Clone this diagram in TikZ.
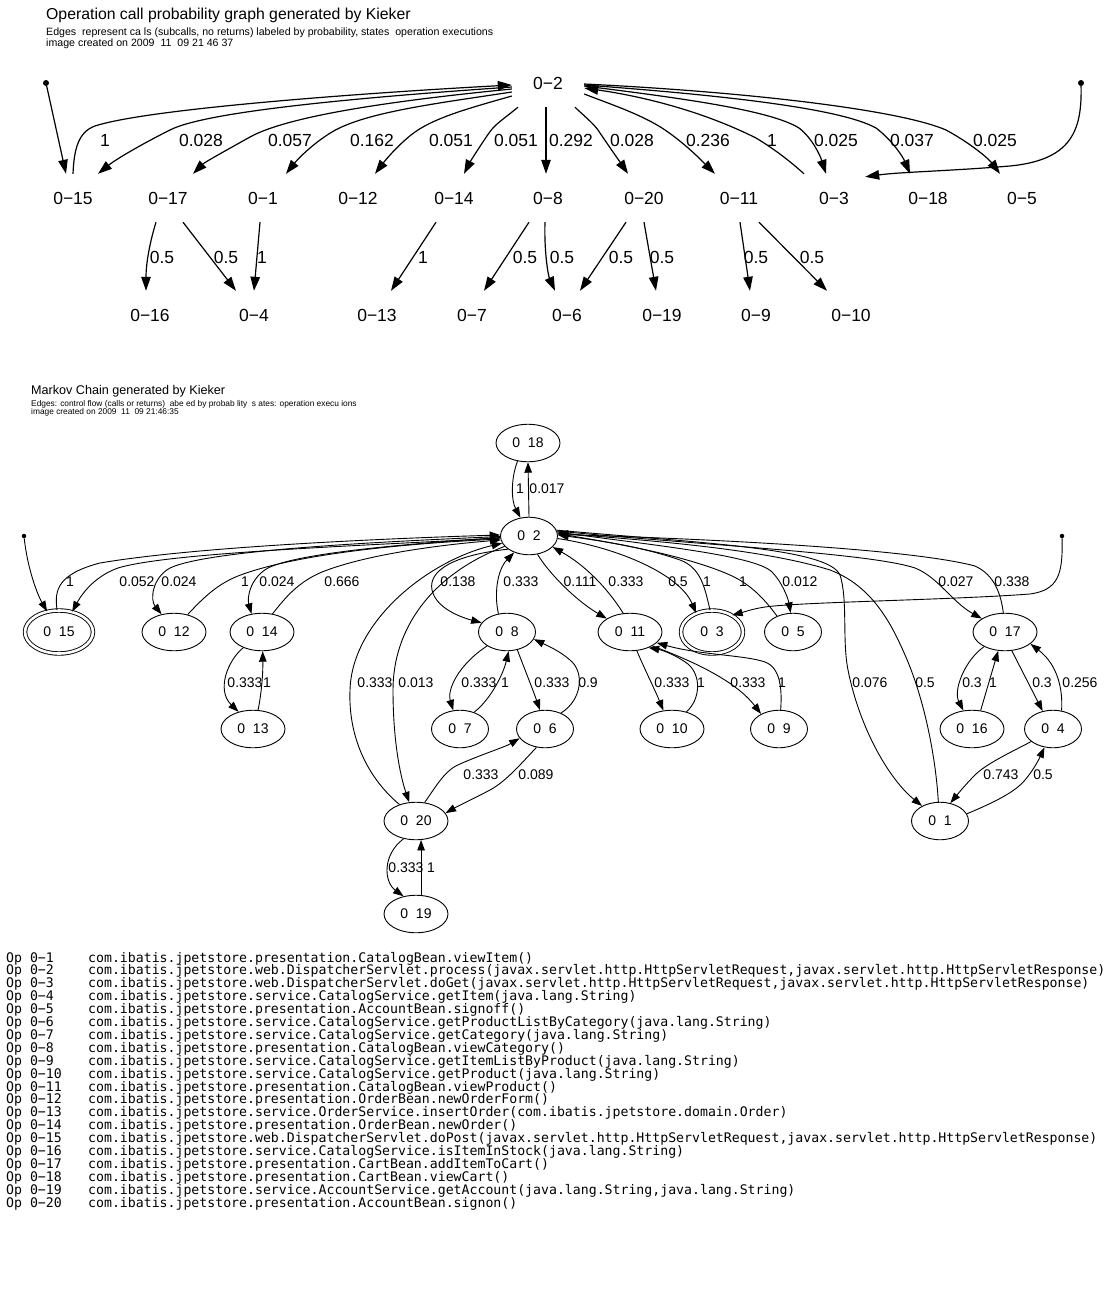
\documentclass[tikz,border=0pt]{standalone}
\usepackage{fontspec}
\setmainfont{Liberation Sans}
\newfontfamily\legendfont{DejaVu Sans Mono}
\usetikzlibrary{arrows.meta,shapes.geometric}

% one line of the operation legend: number, signature
\newcommand\opline[2]{\node[legend] (op#1) at (6,{962+12.9*(#1-1)}) {\makebox[82pt][l]{Op 0−#1}#2};}

\begin{document}
\begin{tikzpicture}[x=1pt,y=-1pt,
  hdr/.style={anchor=base west, inner sep=0pt},
  tnode/.style={rectangle, minimum width=72pt, minimum height=48pt, inner sep=0pt, font=\fontsize{17.5}{20}\selectfont},
  tlbl/.style={inner sep=0pt, font=\fontsize{17.5}{20}\selectfont},
  tedge/.style={draw, line width=1.2pt, -{Triangle[length=14pt,width=9.5pt]}},
  tdot/.style={circle, fill, inner sep=0pt, minimum size=6pt},
  mnode/.style={ellipse, draw, line width=0.9pt, minimum width=64pt, minimum height=37.5pt, inner sep=0pt, font=\fontsize{14}{16}\selectfont},
  msmall/.style={mnode, minimum width=57pt},
  mfinal/.style={mnode, double, double distance=2.6pt, minimum height=43pt},
  mlbl/.style={inner sep=0pt, font=\fontsize{14}{16}\selectfont},
  medge/.style={draw, line width=0.9pt, -{Triangle[length=10.5pt,width=7.5pt]}},
  mdot/.style={circle, fill, inner sep=0pt, minimum size=4.5pt},
  legend/.style={anchor=base west, inner sep=0pt, font=\legendfont\fontsize{13.2}{13}\selectfont}
]
\fill[white] (0,0) rectangle (1107,1293);
\useasboundingbox (0,0) rectangle (1107,1293);

% ---------------- operation call probability graph ----------------
\node[hdr, font=\fontsize{15.8}{18}\selectfont] (ttitle) at (46,19.5) {Operation call probability graph generated by Kieker};
\node[hdr, font=\fontsize{10.6}{12}\selectfont] (tsub) at (46,35.5) {Edges\ \ represent ca ls (subcalls, no returns) labeled by probability, states\ \ operation executions};
\node[hdr, font=\fontsize{10.6}{12}\selectfont] (tdate) at (46,46.5) {image created on 2009\ \ 11\ \ 09 21 46 37};

\node[tdot] (tdotL) at (46,83) {};
\node[tdot] (tdotR) at (1081,83) {};
\node[tnode] (t2) at (548,83) {0−2};

\node[tnode] (t15) at (73,198) {0−15};
\node[tnode] (t17) at (168,198) {0−17};
\node[tnode] (t1)  at (263,198) {0−1};
\node[tnode] (t12) at (358,198) {0−12};
\node[tnode] (t14) at (454,198) {0−14};
\node[tnode] (t8)  at (548,198) {0−8};
\node[tnode] (t20) at (644,198) {0−20};
\node[tnode] (t11) at (739,198) {0−11};
\node[tnode] (t3)  at (834,198) {0−3};
\node[tnode] (t18) at (928,198) {0−18};
\node[tnode] (t5)  at (1022,198) {0−5};

\node[tnode] (t16) at (150,315) {0−16};
\node[tnode] (t4)  at (254,315) {0−4};
\node[tnode] (t13) at (377,315) {0−13};
\node[tnode] (t7)  at (472,315) {0−7};
\node[tnode] (t6)  at (567,315) {0−6};
\node[tnode] (t19) at (662,315) {0−19};
\node[tnode] (t9)  at (756,315) {0−9};
\node[tnode] (t10) at (851,315) {0−10};

% calls from and to 0-2
\draw[tedge] (tdotL) -- ([xshift=-7pt]t15.north);
\draw[tedge] (t15.north) .. controls (74,150) and (78,132) .. (95,126) .. controls (150,108) and (380,92) .. ([yshift=-2pt]t2.west);
\draw[tedge] ([yshift=-4pt]t2.west) .. controls (350,98) and (205,112) .. (170,130) .. controls (140,145) and (115,160) .. ([xshift=25pt]t15.north);
\draw[tedge] ([yshift=-6pt]t2.west) .. controls (400,100) and (290,115) .. (250,137) .. controls (225,151) and (205,162) .. ([xshift=25pt]t17.north);
\draw[tedge] ([yshift=-9pt]t2.west) .. controls (440,103) and (365,112) .. (332,132) .. controls (312,144) and (297,160) .. ([xshift=23pt]t1.north);
\draw[tedge] ([yshift=-13pt]t2.west) .. controls (470,108) and (432,118) .. (411,135) .. controls (395,148) and (384,162) .. ([xshift=17pt]t12.north);
\draw[tedge] ([xshift=-30pt]t2.south) .. controls (505,118) and (495,124) .. (489,133) .. controls (480,146) and (470,162) .. ([xshift=10pt]t14.north);
\draw[tedge] ([xshift=-2pt]t2.south) -- ([xshift=-2pt]t8.north);
\draw[tedge] ([xshift=27pt]t2.south) .. controls (583,115) and (592,122) .. (598,130) .. controls (608,145) and (620,162) .. ([xshift=-16pt]t20.north);
\draw[tedge] ([yshift=-11pt]t2.east) .. controls (610,104) and (640,114) .. (662,128) .. controls (685,143) and (703,162) .. ([xshift=-24pt]t11.north);
\draw[tedge] ([xshift=-30pt]t3.north) .. controls (792,163) and (776,150) .. (756,138) .. controls (700,110) and (640,96) .. ([yshift=-5pt]t2.east);
\draw[tedge] ([yshift=-3pt]t2.east) .. controls (680,98) and (770,110) .. (799,128) .. controls (812,138) and (820,155) .. ([xshift=-8pt]t3.north);
\draw[tedge] ([yshift=-2pt]t2.east) .. controls (720,95) and (840,108) .. (876,128) .. controls (892,140) and (903,157) .. ([xshift=-18pt]t18.north);
\draw[tedge] ([yshift=-1pt]t2.east) .. controls (750,92) and (900,110) .. (946,130) .. controls (970,143) and (988,158) .. ([xshift=-22pt]t5.north);
\draw[tedge] (tdotR) .. controls (1082,130) and (1072,160) .. (1010,166) .. controls (950,171) and (900,172) .. ([xshift=-5pt,yshift=-3pt]t3.north east);

\node[tlbl] (tl1)  at (105,140) {1};
\node[tlbl] (tl2)  at (201,140) {0.028};
\node[tlbl] (tl3)  at (290,140) {0.057};
\node[tlbl] (tl4)  at (372,140) {0.162};
\node[tlbl] (tl5)  at (451,140) {0.051};
\node[tlbl] (tl6)  at (516,140) {0.051};
\node[tlbl] (tl7)  at (571,140) {0.292};
\node[tlbl] (tl8)  at (632,140) {0.028};
\node[tlbl] (tl9)  at (708,140) {0.236};
\node[tlbl] (tl10) at (772,140) {1};
\node[tlbl] (tl11) at (836,140) {0.025};
\node[tlbl] (tl12) at (912,140) {0.037};
\node[tlbl] (tl13) at (995,140) {0.025};

% second level calls
\draw[tedge] ([xshift=-12pt]t17.south) .. controls (149,245) and (146,265) .. ([xshift=-4pt]t16.north);
\draw[tedge] ([xshift=15pt]t17.south) -- ([xshift=-18pt]t4.north);
\draw[tedge] ([xshift=-3pt]t1.south) -- (t4.north);
\draw[tedge] ([xshift=-18pt]t14.south) -- ([xshift=14pt]t13.north);
\draw[tedge] ([xshift=-19pt]t8.south) -- ([xshift=12pt]t7.north);
\draw[tedge] ([xshift=-3pt]t8.south) .. controls (544,250) and (548,275) .. ([xshift=-12pt]t6.north);
\draw[tedge] ([xshift=-18pt]t20.south) -- ([xshift=13pt]t6.north);
\draw[tedge] (t20.south) -- ([xshift=-6pt]t19.north);
\draw[tedge] ([xshift=1pt]t11.south) -- ([xshift=-6pt]t9.north);
\draw[tedge] ([xshift=20pt]t11.south) -- ([xshift=-24pt]t10.north);

\node[tlbl] (tl14) at (162,257) {0.5};
\node[tlbl] (tl15) at (226,257) {0.5};
\node[tlbl] (tl16) at (262,257) {1};
\node[tlbl] (tl17) at (423,257) {1};
\node[tlbl] (tl18) at (525,257) {0.5};
\node[tlbl] (tl19) at (562,257) {0.5};
\node[tlbl] (tl20) at (621,257) {0.5};
\node[tlbl] (tl21) at (662,257) {0.5};
\node[tlbl] (tl22) at (756,257) {0.5};
\node[tlbl] (tl23) at (812,257) {0.5};

% ---------------- Markov chain ----------------
\node[hdr, font=\fontsize{12.6}{15}\selectfont] (mtitle) at (31,394.5) {Markov Chain generated by Kieker};
\node[hdr, font=\fontsize{8.35}{9}\selectfont] (msub) at (31,406) {Edges: control flow (calls or returns)\ \ abe ed by probab lity\ \ s ates: operation execu ions};
\node[hdr, font=\fontsize{8.35}{9}\selectfont] (mdate) at (31,414.8) {image created on 2009\ \ 11\ \ 09 21:46:35};

\node[mdot] (mdotL) at (24,536) {};
\node[mdot] (mdotR) at (1062,536) {};

\node[mnode]  (m18) at (528,443) {0\ \ 18};
\node[msmall] (m2)  at (529,536) {0\ \ 2};
\node[mfinal, minimum width=68pt] (m15) at (59,632) {0\ \ 15};
\node[mnode]  (m12) at (174,632) {0\ \ 12};
\node[mnode]  (m14) at (262,632) {0\ \ 14};
\node[msmall] (m8)  at (507,632) {0\ \ 8};
\node[mnode]  (m11) at (630,632) {0\ \ 11};
\node[mfinal, minimum width=62pt] (m3) at (712,632) {0\ \ 3};
\node[msmall] (m5)  at (793,632) {0\ \ 5};
\node[mnode]  (m17) at (1005,632) {0\ \ 17};
\node[mnode]  (m13) at (253,729) {0\ \ 13};
\node[msmall] (m7)  at (460,729) {0\ \ 7};
\node[msmall] (m6)  at (545,729) {0\ \ 6};
\node[mnode]  (m10) at (672,729) {0\ \ 10};
\node[msmall] (m9)  at (779,729) {0\ \ 9};
\node[mnode]  (m16) at (972,729) {0\ \ 16};
\node[msmall] (m4)  at (1053,729) {0\ \ 4};
\node[mnode]  (m20) at (416,821) {0\ \ 20};
\node[msmall] (m1)  at (940,821) {0\ \ 1};
\node[mnode]  (m19) at (416,914) {0\ \ 19};

% transitions
\draw[medge] (m18.240) .. controls (511,478) and (511,500) .. (m2.115);
\draw[medge] (m2.north) -- (m18.south);
\draw[medge] (mdotL) .. controls (27,565) and (36,592) .. (m15.120);
\draw[medge] (m15.95) .. controls (54,590) and (58,574) .. (100,563) .. controls (200,546) and (400,538) .. (m2.178);
\draw[medge] (m2.184) .. controls (380,545) and (170,552) .. (118,568) .. controls (98,575) and (84,590) .. (m15.57);
\draw[medge] (m2.181) .. controls (400,541) and (210,549) .. (170,568) .. controls (152,578) and (150,600) .. (m12.125);
\draw[medge] (m12.52) .. controls (205,596) and (218,584) .. (238,576) .. controls (300,552) and (420,543) .. (m2.186);
\draw[medge] (m2.183) .. controls (420,543) and (300,552) .. (268,568) .. controls (250,578) and (247,598) .. (m14.120);
\draw[medge] (m14.60) .. controls (285,598) and (298,582) .. (322,572) .. controls (370,553) and (450,544) .. (m2.188);
\draw[medge] (m20.135) .. controls (370,780) and (348,740) .. (350,690) .. controls (352,620) and (430,560) .. (m2.195);
\draw[medge] (m2.203) .. controls (430,575) and (393,630) .. (393,690) .. controls (393,740) and (400,775) .. (m20.110);
\draw[medge] (m2.212) .. controls (455,555) and (428,570) .. (432,590) .. controls (436,608) and (460,617) .. (m8.160);
\draw[medge] (m8.115) .. controls (494,595) and (497,570) .. (m2.228);
\draw[medge] (m2.295) .. controls (548,572) and (575,600) .. (m11.150);
\draw[medge] (m11.110) .. controls (612,595) and (590,568) .. (m2.335);
\draw[medge] (m2.355) .. controls (620,548) and (680,575) .. (m3.130);
\draw[medge] (m3.95) .. controls (705,590) and (702,568) .. (680,560) .. controls (640,546) and (595,540) .. (m2.2);
\draw[medge] (m5.135) .. controls (765,600) and (752,585) .. (730,575) .. controls (680,553) and (600,541) .. (m2.5);
\draw[medge] (m2.8) .. controls (650,545) and (755,555) .. (772,572) .. controls (782,582) and (788,598) .. (m5.97);
\draw[medge] (mdotR) .. controls (1063,575) and (1058,590) .. (1030,594) .. controls (950,600) and (800,602) .. (765,607) .. controls (752,609) and (744,612) .. (m3.40);
\draw[medge] (m2.10) .. controls (700,545) and (870,553) .. (915,568) .. controls (938,577) and (952,602) .. (m17.150);
\draw[medge] (m17.95) .. controls (1001,595) and (995,575) .. (975,566) .. controls (900,546) and (650,537) .. (m2.3);
\draw[medge] (m2.12) .. controls (700,543) and (828,548) .. (840,575) .. controls (848,600) and (842,640) .. (848,670) .. controls (860,730) and (890,780) .. (m1.140);
\draw[medge] (m1.95) .. controls (936,760) and (925,700) .. (905,655) .. controls (890,620) and (870,585) .. (830,570) .. controls (760,548) and (640,540) .. (m2.6);

\draw[medge] (m8.215) .. controls (458,665) and (447,690) .. (m7.110);
\draw[medge] (m7.50) .. controls (490,700) and (503,675) .. (m8.275);
\draw[medge] (m8.300) .. controls (525,670) and (533,690) .. (m6.105);
\draw[medge] (m6.45) .. controls (582,700) and (585,672) .. (570,660) .. controls (560,651) and (546,645) .. (m8.345);
\draw[medge] (m20.65) .. controls (437,785) and (445,770) .. (460,764) .. controls (480,755) and (505,747) .. (m6.200);
\draw[medge] (m6.245) .. controls (520,765) and (505,782) .. (490,790) .. controls (475,798) and (458,806) .. (m20.15);
\draw[medge] (m20.235) .. controls (382,855) and (384,882) .. (m19.125);
\draw[medge] (m19.75) -- (m20.285);
\draw[medge] (m14.220) .. controls (228,660) and (216,690) .. (m13.130);
\draw[medge] (m13.75) .. controls (262,690) and (263,672) .. (m14.272);
\draw[medge] (m11.290) .. controls (645,670) and (655,690) .. (m10.115);
\draw[medge] (m10.50) .. controls (700,700) and (702,676) .. (688,664) .. controls (676,655) and (662,650) .. (m11.320);
\draw[medge] (m11.328) .. controls (690,660) and (735,680) .. (m9.140);
\draw[medge] (m9.85) .. controls (782,690) and (781,668) .. (765,662) .. controls (745,655) and (700,655) .. (m11.338);
\draw[medge] (m17.215) .. controls (965,660) and (953,690) .. (m16.115);
\draw[medge] (m16.65) -- (m17.250);
\draw[medge] (m17.290) -- (m4.120);
\draw[medge] (m4.65) .. controls (1063,690) and (1058,665) .. (m17.335);
\draw[medge] (m4.210) .. controls (1005,755) and (985,765) .. (975,775) .. controls (965,785) and (957,795) .. (m1.60);
\draw[medge] (m1.15) .. controls (995,802) and (1015,792) .. (1025,780) .. controls (1035,768) and (1040,757) .. (m4.245);

% transition probabilities
\node[mlbl] (ml1)  at (520,489) {1};
\node[mlbl] (ml2)  at (547,489) {0.017};
\node[mlbl] (ml3)  at (70,582) {1};
\node[mlbl] (ml4)  at (137,582) {0.052};
\node[mlbl] (ml5)  at (179,582) {0.024};
\node[mlbl] (ml6)  at (245,582) {1};
\node[mlbl] (ml7)  at (277,582) {0.024};
\node[mlbl] (ml8)  at (342,582) {0.666};
\node[mlbl] (ml9)  at (458,582) {0.138};
\node[mlbl] (ml10) at (521,582) {0.333};
\node[mlbl] (ml11) at (580,582) {0.111};
\node[mlbl] (ml12) at (626,582) {0.333};
\node[mlbl] (ml13) at (678,582) {0.5};
\node[mlbl] (ml14) at (707,582) {1};
\node[mlbl] (ml15) at (743,582) {1};
\node[mlbl] (ml16) at (800,582) {0.012};
\node[mlbl] (ml17) at (956,582) {0.027};
\node[mlbl] (ml18) at (1012,582) {0.338};
\node[mlbl] (ml19) at (245,683) {0.333};
\node[mlbl] (ml20) at (267,683) {1};
\node[mlbl] (ml21) at (375,683) {0.333};
\node[mlbl] (ml22) at (416,683) {0.013};
\node[mlbl] (ml23) at (479,683) {0.333};
\node[mlbl] (ml24) at (505,683) {1};
\node[mlbl] (ml25) at (552,683) {0.333};
\node[mlbl] (ml26) at (588,683) {0.9};
\node[mlbl] (ml27) at (672,683) {0.333};
\node[mlbl] (ml28) at (701,683) {1};
\node[mlbl] (ml29) at (748,683) {0.333};
\node[mlbl] (ml30) at (782,683) {1};
\node[mlbl] (ml31) at (870,683) {0.076};
\node[mlbl] (ml32) at (925,683) {0.5};
\node[mlbl] (ml33) at (972,683) {0.3};
\node[mlbl] (ml34) at (993,683) {1};
\node[mlbl] (ml35) at (1042,683) {0.3};
\node[mlbl] (ml36) at (1080,683) {0.256};
\node[mlbl] (ml37) at (481,775) {0.333};
\node[mlbl] (ml38) at (536,775) {0.089};
\node[mlbl] (ml39) at (1001,775) {0.743};
\node[mlbl] (ml40) at (1043,775) {0.5};
\node[mlbl] (ml41) at (406,868) {0.333};
\node[mlbl] (ml42) at (431,868) {1};

% ---------------- operation legend ----------------
\opline{1}{com.ibatis.jpetstore.presentation.CatalogBean.viewItem()}
\opline{2}{com.ibatis.jpetstore.web.DispatcherServlet.process(javax.servlet.http.HttpServletRequest,javax.servlet.http.HttpServletResponse)}
\opline{3}{com.ibatis.jpetstore.web.DispatcherServlet.doGet(javax.servlet.http.HttpServletRequest,javax.servlet.http.HttpServletResponse)}
\opline{4}{com.ibatis.jpetstore.service.CatalogService.getItem(java.lang.String)}
\opline{5}{com.ibatis.jpetstore.presentation.AccountBean.signoff()}
\opline{6}{com.ibatis.jpetstore.service.CatalogService.getProductListByCategory(java.lang.String)}
\opline{7}{com.ibatis.jpetstore.service.CatalogService.getCategory(java.lang.String)}
\opline{8}{com.ibatis.jpetstore.presentation.CatalogBean.viewCategory()}
\opline{9}{com.ibatis.jpetstore.service.CatalogService.getItemListByProduct(java.lang.String)}
\opline{10}{com.ibatis.jpetstore.service.CatalogService.getProduct(java.lang.String)}
\opline{11}{com.ibatis.jpetstore.presentation.CatalogBean.viewProduct()}
\opline{12}{com.ibatis.jpetstore.presentation.OrderBean.newOrderForm()}
\opline{13}{com.ibatis.jpetstore.service.OrderService.insertOrder(com.ibatis.jpetstore.domain.Order)}
\opline{14}{com.ibatis.jpetstore.presentation.OrderBean.newOrder()}
\opline{15}{com.ibatis.jpetstore.web.DispatcherServlet.doPost(javax.servlet.http.HttpServletRequest,javax.servlet.http.HttpServletResponse)}
\opline{16}{com.ibatis.jpetstore.service.CatalogService.isItemInStock(java.lang.String)}
\opline{17}{com.ibatis.jpetstore.presentation.CartBean.addItemToCart()}
\opline{18}{com.ibatis.jpetstore.presentation.CartBean.viewCart()}
\opline{19}{com.ibatis.jpetstore.service.AccountService.getAccount(java.lang.String,java.lang.String)}
\opline{20}{com.ibatis.jpetstore.presentation.AccountBean.signon()}
\end{tikzpicture}
\end{document}
